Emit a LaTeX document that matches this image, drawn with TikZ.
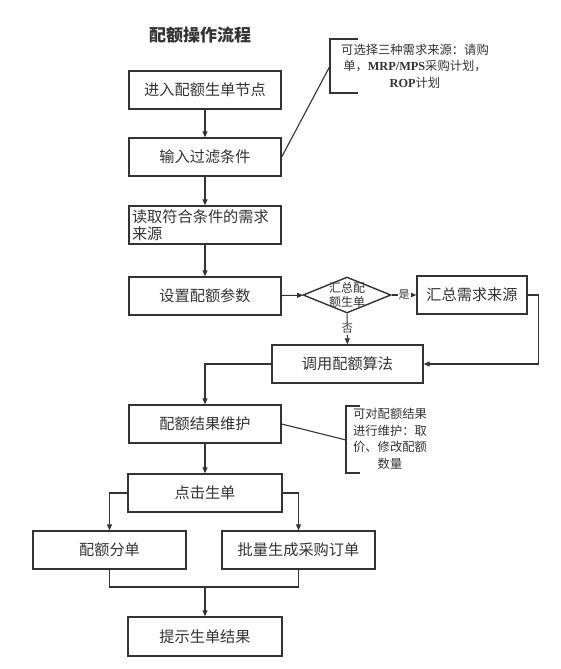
\documentclass[tikz,border=0pt]{standalone}
\usepackage{fontspec}
\setmainfont{Liberation Serif}
\newfontfamily\cjk{Noto Sans CJK SC}
\usetikzlibrary{arrows.meta, shapes.geometric}
\definecolor{ink}{HTML}{333333}

\begin{document}
\begin{tikzpicture}[
    x=1pt, y=-1pt,
    font        = \cjk\fontsize{15.2}{17.5}\selectfont,
    box/.style  = {draw=ink, line width=1.4pt, minimum width=152pt,
                   minimum height=38pt, text=ink, inner sep=2pt},
    dec/.style  = {draw=ink, line width=1.4pt, diamond, minimum width=88pt,
                   minimum height=36pt, inner sep=0pt},
    arr/.style  = {-{Triangle[length=6pt,width=5pt]}, ink, line width=1.1pt},
    conn/.style = {ink, line width=1.1pt},
    lbl/.style  = {fill=white, inner sep=1pt, text=ink,
                   font=\cjk\fontsize{11}{12}\selectfont},
    note/.style = {align=center, text=ink,
                   font=\cjk\fontsize{12.3}{16.5}\selectfont},
  ]
  \useasboundingbox (0,0) rectangle (561,669);
  \node[text=ink, font=\cjk\bfseries\fontsize{17}{20}\selectfont] (title) at (200,35) {配额操作流程};

  % main column
  \node[box] (enter)  at (205,90)  {进入配额生单节点};
  \node[box] (filter) at (205,157) {输入过滤条件};
  \node[box, text width=146pt, align=left] (read) at (205,225) {读取符合条件的需求\\来源};
  \node[box] (param)  at (205,296) {设置配额参数};
  \node[dec, label={[align=center, text=ink, font=\cjk\fontsize{12}{13.5}\selectfont]center:汇总配\\额生单}] (dec) at (347,295) {};
  \node[box, minimum width=110pt] (sum) at (472,295) {汇总需求来源};
  \node[box, minimum width=151pt] (calc) at (347.5,364) {调用配额算法};
  \node[box] (result) at (205,424) {配额结果维护};
  \node[box, minimum width=154pt] (click) at (205,493) {点击生单};
  \node[box, minimum width=153pt] (split) at (109.5,550) {配额分单};
  \node[box, minimum width=153pt] (batch) at (298.5,550) {批量生成采购订单};
  \node[box, minimum width=154pt, minimum height=39pt] (done) at (205,636.5) {提示生单结果};

  % notes
  \node[note] (note1) at (415,66) {可选择三种需求来源：请购\\单，{\rmfamily\bfseries MRP/MPS}采购计划，\\{\rmfamily\bfseries ROP}计划};
  \node[note] (note2) at (390,439) {可对配额结果\\进行维护：取\\价、修改配额\\数量};
  \draw[conn] (358,39) -- (330,39) -- (330,93) -- (358,93);
  \draw[conn] (360,406) -- (346,406) -- (346,473) -- (360,473);
  \coordinate (n1) at (330,66);
  \coordinate (n2) at (346,440);
  \draw[conn] (filter.east) -- (n1);
  \draw[conn] (result.east) -- (n2);

  % connectors
  \draw[arr] (enter) -- (filter);
  \draw[arr] (filter) -- (read);
  \draw[arr] (read) -- (param);
  \draw[arr] (param) -- (dec);
  \draw[arr] (dec) -- node[lbl] {是} (sum);
  \draw[arr] (dec) -- node[lbl] {否} (calc);
  \draw[arr] (sum.east) -- ++(11,0) |- (calc.east);
  \draw[arr] (calc.west) -| (result);
  \draw[arr] (result) -- (click);
  \draw[arr] (click.west) -| (split);
  \draw[arr] (click.east) -| (batch);
  \coordinate (merge) at (205,587);
  \draw[conn] (split) |- (merge) -| (batch);
  \draw[arr] (merge) -- (done);
\end{tikzpicture}
\end{document}
